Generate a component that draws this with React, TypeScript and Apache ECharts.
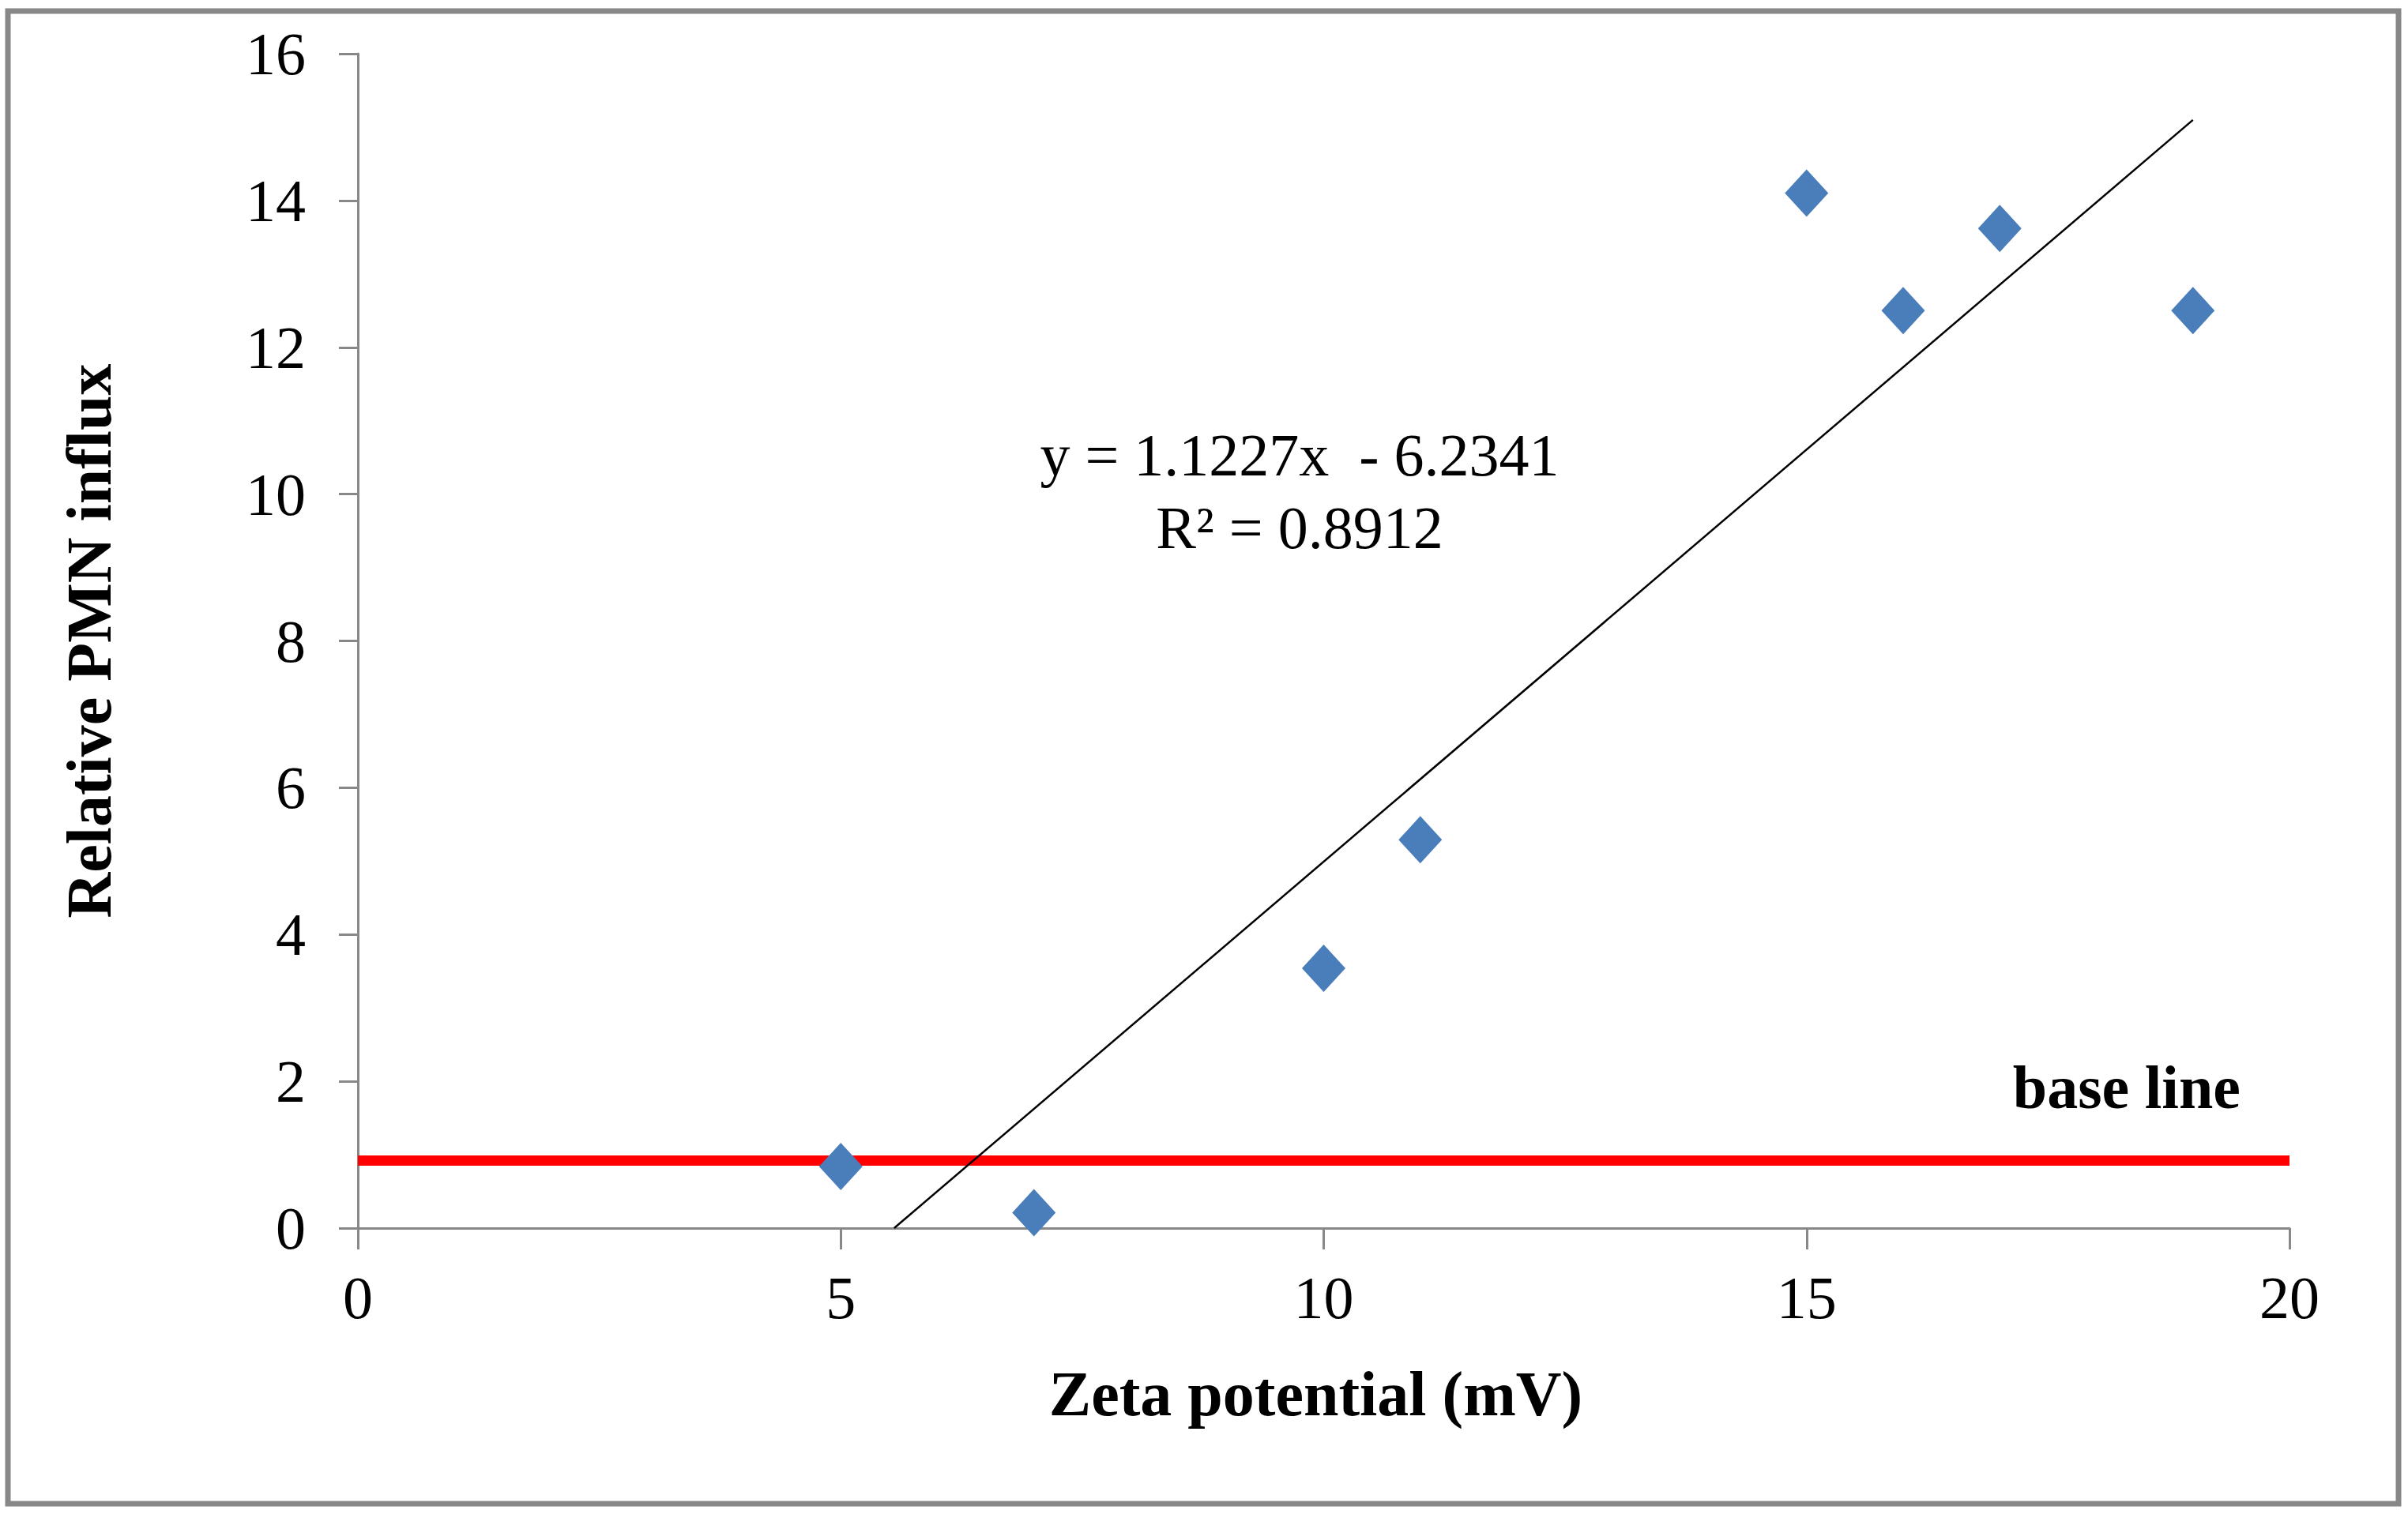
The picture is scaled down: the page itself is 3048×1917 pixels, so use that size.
import React, { useEffect, useRef } from "react";
import * as echarts from "echarts";

const zeta = [5, 7, 10, 11, 15, 16, 17, 19];
const pmn = [0.84, 0.21, 3.54, 5.29, 14.1, 12.5, 13.62, 12.5];
const slope = 1.1227;
const intercept = -6.2341;
const baseLineValue = 0.92;
const xTicks = [0, 5, 10, 15, 20];
const yTicks = [0, 2, 4, 6, 8, 10, 12, 14, 16];
const equationText = "y = 1.1227x  - 6.2341";
const r2Text = "R\u00B2 = 0.8912";

const FONT = '"Liberation Serif", "Times New Roman", serif';

export default function App() {
  const ref = useRef<HTMLDivElement>(null);
  useEffect(() => {
    if (!ref.current) return;
    const chart = echarts.init(ref.current, undefined, { renderer: "svg" });
    const xStart = -intercept / slope;
    const xEnd = Math.max(...zeta);
    const trend = [
      [xStart, slope * xStart + intercept],
      [xEnd, slope * xEnd + intercept],
    ];
    const base = [
      [xTicks[0], baseLineValue],
      [xTicks[xTicks.length - 1], baseLineValue],
    ];
    chart.setOption({
      animation: false,
      backgroundColor: "#ffffff",
      grid: { left: 453, right: 150, top: 68, bottom: 362, containLabel: false },
      xAxis: {
        type: "value",
        min: xTicks[0],
        max: xTicks[xTicks.length - 1],
        interval: 5,
        name: "Zeta potential (mV)",
        nameLocation: "middle",
        nameGap: 170,
        nameTextStyle: {
          fontFamily: FONT,
          fontWeight: "bold",
          fontSize: 80,
          color: "#000",
          padding: [0, 20, 0, 0],
        },
        axisLine: { show: true, onZero: false, lineStyle: { color: "#888888", width: 3 } },
        axisTick: { show: true, inside: false, length: 27, lineStyle: { color: "#888888", width: 3 } },
        axisLabel: { fontFamily: FONT, fontSize: 76, color: "#000", margin: 50 },
        splitLine: { show: false },
      },
      yAxis: {
        type: "value",
        min: yTicks[0],
        max: yTicks[yTicks.length - 1],
        interval: 2,
        name: "Relative PMN influx",
        nameLocation: "middle",
        nameGap: 300,
        nameTextStyle: { fontFamily: FONT, fontWeight: "bold", fontSize: 80, color: "#000" },
        axisLine: { show: true, onZero: false, lineStyle: { color: "#888888", width: 3 } },
        axisTick: { show: true, inside: false, length: 24, lineStyle: { color: "#888888", width: 3 } },
        axisLabel: { fontFamily: FONT, fontSize: 76, color: "#000", margin: 66 },
        splitLine: { show: false },
      },
      series: [
        {
          type: "line",
          data: base,
          symbol: "none",
          lineStyle: { color: "#FF0000", width: 13 },
          z: 2,
        },
        {
          type: "line",
          data: trend,
          symbol: "none",
          lineStyle: { color: "#000000", width: 2.5 },
          z: 3,
        },
        {
          type: "scatter",
          data: zeta.map((x, i) => [x, pmn[i]]),
          symbol: "diamond",
          symbolSize: [55, 60],
          itemStyle: { color: "#4A7EBB", opacity: 1 },
          z: 4,
        },
      ],
      graphic: [
        {
          type: "rect",
          shape: { x: 10, y: 14, width: 3026, height: 1890 },
          style: { fill: "none", stroke: "#878787", lineWidth: 7 },
          silent: true,
        },
        {
          type: "text",
          x: 1645,
          y: 576,
          style: {
            text: equationText,
            fontFamily: FONT,
            fontSize: 76,
            fill: "#000",
            textAlign: "center",
            textVerticalAlign: "middle",
          },
        },
        {
          type: "text",
          x: 1645,
          y: 668,
          style: {
            text: r2Text,
            fontFamily: FONT,
            fontSize: 76,
            fill: "#000",
            textAlign: "center",
            textVerticalAlign: "middle",
          },
        },
        {
          type: "text",
          x: 2836,
          y: 1376,
          style: {
            text: "base line",
            fontFamily: FONT,
            fontWeight: "bold",
            fontSize: 78,
            fill: "#000",
            textAlign: "right",
            textVerticalAlign: "middle",
          },
        },
      ],
    });
    return () => chart.dispose();
  }, []);
  return (
    <div
      ref={ref}
      style={{ position: "fixed", left: 0, top: 0, width: 3048, height: 1917, background: "#fff" }}
    />
  );
}
